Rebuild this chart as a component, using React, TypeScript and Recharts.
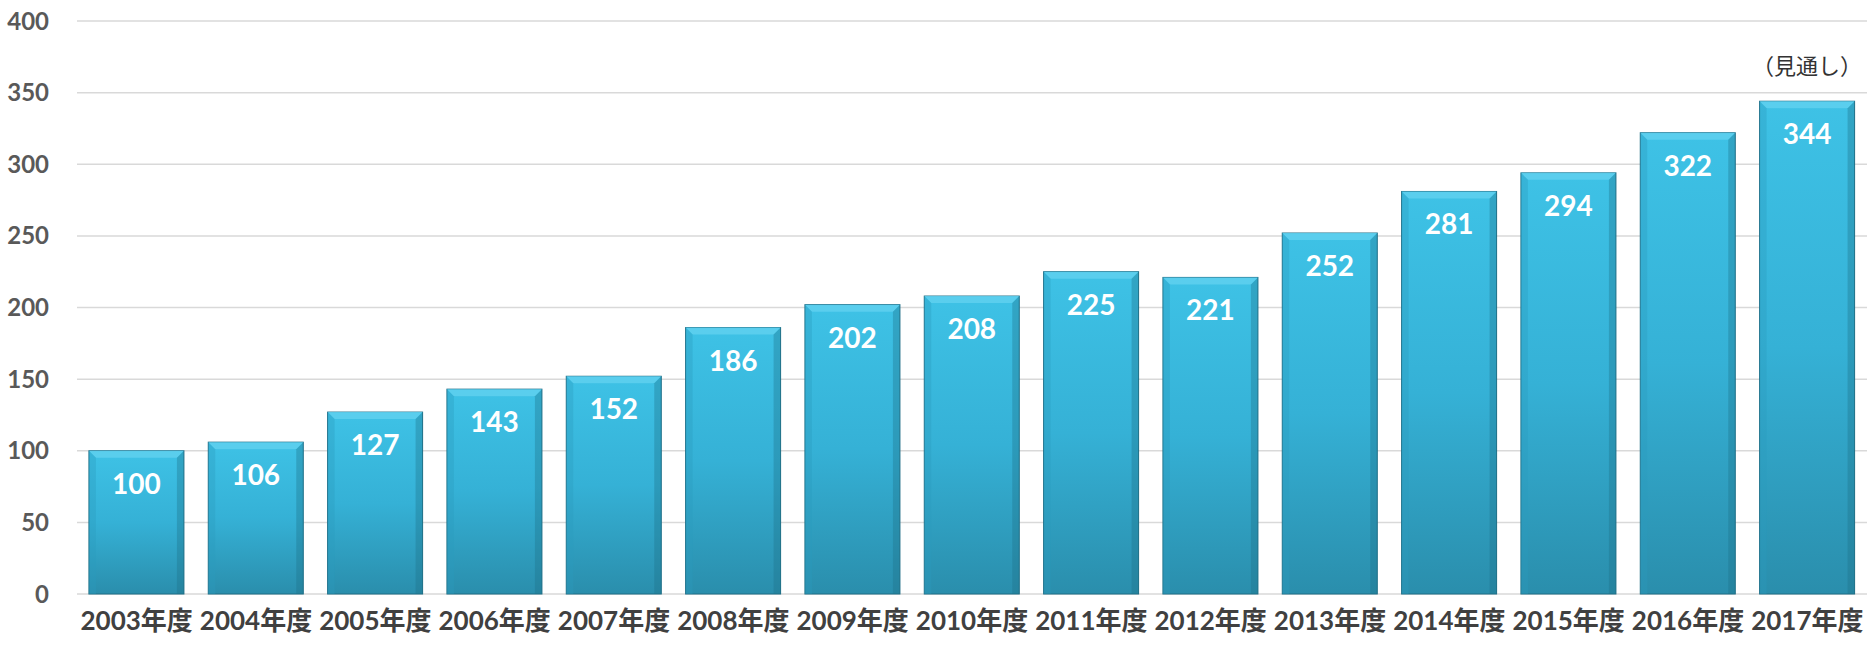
import { BarChart, Bar, XAxis, YAxis, CartesianGrid, LabelList } from "recharts";

const years = [
  "2003年度", "2004年度", "2005年度", "2006年度", "2007年度",
  "2008年度", "2009年度", "2010年度", "2011年度", "2012年度",
  "2013年度", "2014年度", "2015年度", "2016年度", "2017年度",
];
const values = [100, 106, 127, 143, 152, 186, 202, 208, 225, 221, 252, 281, 294, 322, 344];
const notes = ["", "", "", "", "", "", "", "", "", "", "", "", "", "", "（見通し）"];
const yTicks = [0, 50, 100, 150, 200, 250, 300, 350, 400];

const data = years.map((year, i) => ({ year, value: values[i], note: notes[i] }));

const FONT = "Lato, 'Noto Sans CJK JP', sans-serif";

function BevelBar(props: any) {
  const { x, y, width, height } = props;
  if (!height || height <= 0) return null;
  const b = 7;
  return (
    <g>
      <rect x={x} y={y} width={width} height={height} fill="url(#barGrad)" stroke="#1f6e86" strokeWidth={1} />
      <polygon
        points={`${x},${y} ${x + width},${y} ${x + width - b},${y + b} ${x + b},${y + b}`}
        fill="#5fd0ee"
        opacity={0.85}
      />
      <polygon
        points={`${x},${y} ${x + b},${y + b} ${x + b},${y + height} ${x},${y + height}`}
        fill="#2c9bbd"
        opacity={0.35}
      />
      <polygon
        points={`${x + width},${y} ${x + width - b},${y + b} ${x + width - b},${y + height} ${x + width},${y + height}`}
        fill="#1e6f87"
        opacity={0.35}
      />
    </g>
  );
}

function ValueLabel(props: any) {
  const { x, y, width, value } = props;
  return (
    <text
      x={x + width / 2}
      y={y + 32}
      textAnchor="middle"
      dominantBaseline="central"
      fill="#ffffff"
      fontFamily={FONT}
      fontWeight={700}
      fontSize={28}
    >
      {value}
    </text>
  );
}

function NoteLabel(props: any) {
  const { x, y, width, value } = props;
  if (!value) return null;
  return (
    <text
      x={x + width / 2}
      y={y - 36}
      textAnchor="middle"
      dominantBaseline="central"
      fill="#333333"
      fontFamily={FONT}
      fontSize={22}
    >
      {value}
    </text>
  );
}

export default function App() {
  return (
    <div style={{ width: 1872, height: 646, background: "#fff" }}>
      <style>{`body{margin:0}`}</style>
      <BarChart
        width={1872}
        height={646}
        data={data}
        margin={{ top: 21, right: 5, bottom: 0, left: 0 }}
        barCategoryGap="10%"
      >
        <defs>
          <linearGradient id="barGrad" x1="0" y1="0" x2="0" y2="1">
            <stop offset="0%" stopColor="#3ec2e6" />
            <stop offset="50%" stopColor="#35b1d6" />
            <stop offset="100%" stopColor="#2a8eac" />
          </linearGradient>
        </defs>
        <CartesianGrid vertical={false} stroke="#d9d9d9" strokeWidth={1.5} />
        <XAxis
          dataKey="year"
          axisLine={false}
          tickLine={false}
          height={52}
          interval={0}
          tick={{ fill: "#404040", fontSize: 26, fontWeight: 700, fontFamily: FONT, dy: 10 }}
        />
        <YAxis
          domain={[0, 400]}
          ticks={yTicks}
          axisLine={false}
          tickLine={false}
          width={77}
          interval={0}
          tick={{ fill: "#595959", fontSize: 24, fontWeight: 700, fontFamily: FONT, dx: -20 }}
        />
        <Bar dataKey="value" shape={<BevelBar />} isAnimationActive={false}>
          <LabelList dataKey="value" content={<ValueLabel />} />
          <LabelList dataKey="note" content={<NoteLabel />} />
        </Bar>
      </BarChart>
    </div>
  );
}
